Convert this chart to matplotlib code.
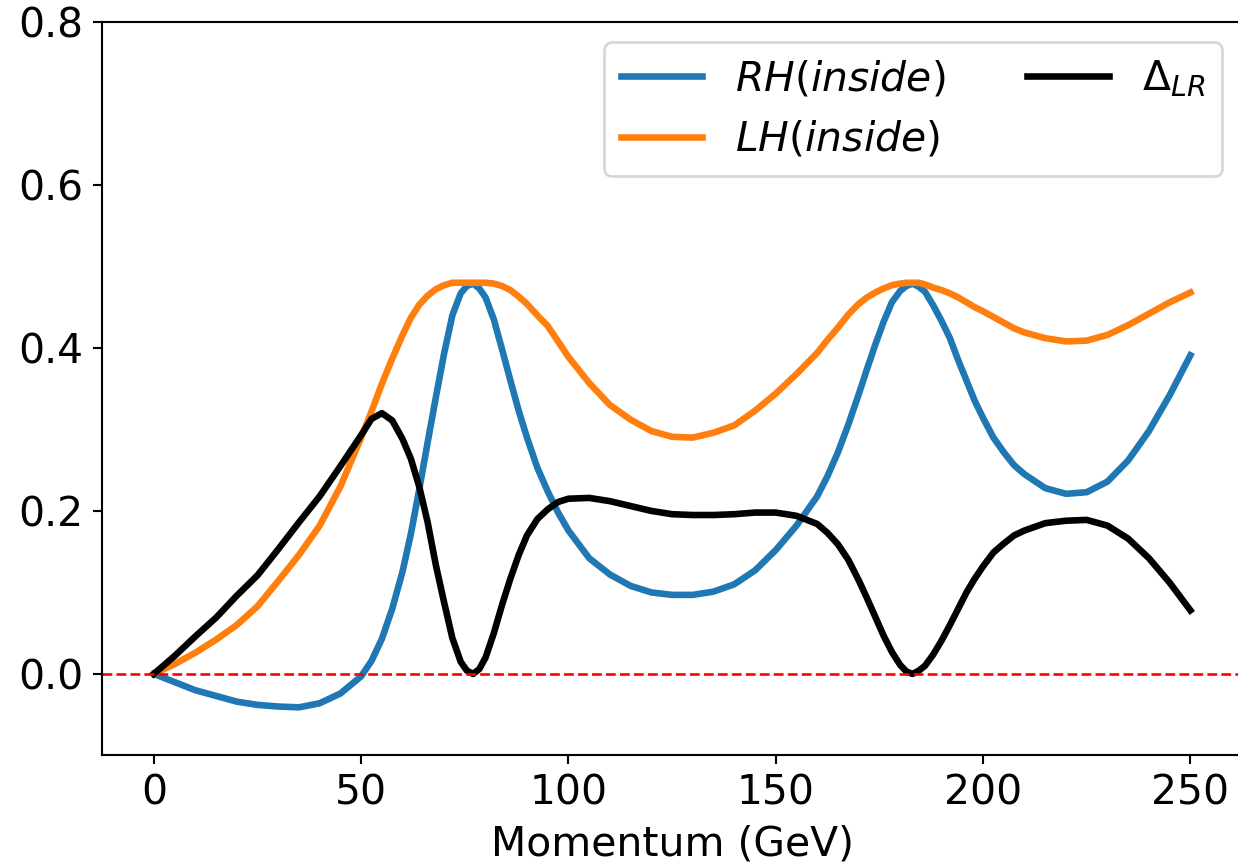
import matplotlib
matplotlib.use("Agg")
import matplotlib.pyplot as plt

# momentum grid (GeV)
momentum = [0, 5, 10, 15, 20, 25, 30, 35, 40, 45, 50,
            52.5, 55, 57.5, 60, 62, 64, 66, 68, 70, 72, 74, 75.5, 77, 78.5, 80,
            82, 84, 86, 88, 90, 92.5, 95, 97.5, 100,
            105, 110, 115, 120, 125, 130, 135, 140, 145, 150, 155, 160,
            162.5, 165, 167.5, 170, 172, 174, 176, 178, 180, 181.5, 183, 184.5, 186,
            188, 190, 192, 194, 196, 198, 200, 202.5, 205, 207.5, 210,
            215, 220, 225, 230, 235, 240, 245, 250]

# right handed (inside)
rh = [0.0, -0.010, -0.020, -0.027, -0.034, -0.038, -0.040, -0.041, -0.036, -0.024, -0.003,
      0.016, 0.043, 0.080, 0.126, 0.172, 0.226, 0.283, 0.339, 0.393, 0.440, 0.467, 0.476,
      0.479, 0.473, 0.462,
      0.435, 0.398, 0.360, 0.323, 0.290, 0.253, 0.224, 0.198, 0.176,
      0.142, 0.122, 0.108, 0.100, 0.097, 0.097, 0.101, 0.110, 0.127, 0.152, 0.182, 0.218,
      0.243, 0.272, 0.306, 0.343, 0.374, 0.404, 0.432, 0.456, 0.470, 0.476, 0.479, 0.475,
      0.469,
      0.452, 0.433, 0.412, 0.385, 0.360, 0.335, 0.314, 0.290, 0.272, 0.256, 0.245,
      0.228, 0.221, 0.223, 0.236, 0.262, 0.298, 0.342, 0.391]

# left handed (inside)
lh = [0.0, 0.012, 0.026, 0.042, 0.060, 0.083, 0.114, 0.146, 0.182, 0.230, 0.290,
      0.322, 0.356, 0.387, 0.416, 0.437, 0.453, 0.464, 0.472, 0.477, 0.480, 0.480, 0.480,
      0.480, 0.480, 0.480,
      0.479, 0.476, 0.471, 0.463, 0.454, 0.440, 0.427, 0.408, 0.389,
      0.357, 0.330, 0.312, 0.298, 0.291, 0.290, 0.296, 0.305, 0.323, 0.344, 0.368, 0.394,
      0.410, 0.425, 0.441, 0.454, 0.462, 0.468, 0.473, 0.477, 0.479, 0.480, 0.480, 0.480,
      0.478,
      0.474, 0.471, 0.467, 0.462, 0.456, 0.450, 0.445, 0.438, 0.431, 0.424, 0.419,
      0.412, 0.408, 0.409, 0.416, 0.428, 0.442, 0.456, 0.468]

# Delta_LR
delta = [0.0, 0.022, 0.046, 0.069, 0.096, 0.121, 0.153, 0.186, 0.218, 0.255, 0.293,
         0.313, 0.320, 0.311, 0.288, 0.264, 0.230, 0.187, 0.134, 0.088, 0.044, 0.015, 0.004,
         0.000, 0.006, 0.020,
         0.050, 0.085, 0.117, 0.146, 0.170, 0.190, 0.202, 0.211, 0.215,
         0.216, 0.212, 0.206, 0.200, 0.196, 0.195, 0.195, 0.196, 0.198, 0.198, 0.194, 0.184,
         0.173, 0.159, 0.140, 0.115, 0.093, 0.070, 0.047, 0.027, 0.011, 0.003, 0.000, 0.004,
         0.010,
         0.024, 0.041, 0.060, 0.080, 0.100, 0.117, 0.132, 0.149, 0.160, 0.170, 0.176,
         0.185, 0.188, 0.189, 0.182, 0.166, 0.142, 0.112, 0.078]

plt.rcParams['font.size'] = 15.5

fig = plt.figure(figsize=(1238 / 190, 866 / 190), dpi=190)
ax = fig.add_axes([0.0824, 0.1277, 0.921, 0.8469])

ax.plot(momentum, rh, color='#1f77b4', lw=2.5, label='$RH(inside)$')
ax.plot(momentum, lh, color='#ff7f0e', lw=2.5, label='$LH(inside)$')
ax.plot(momentum, delta, color='black', lw=2.5, label=r'$\Delta_{LR}$')
ax.axhline(0, color='red', ls='--', lw=1)

ax.set_xlim(-12.5, 262.5)
ax.set_ylim(-0.1, 0.8)
ax.set_yticks([0.0, 0.2, 0.4, 0.6, 0.8])
ax.set_xlabel('Momentum (GeV)')
ax.legend(loc='upper right', ncol=2)

fig.savefig('out.png', dpi=190)
